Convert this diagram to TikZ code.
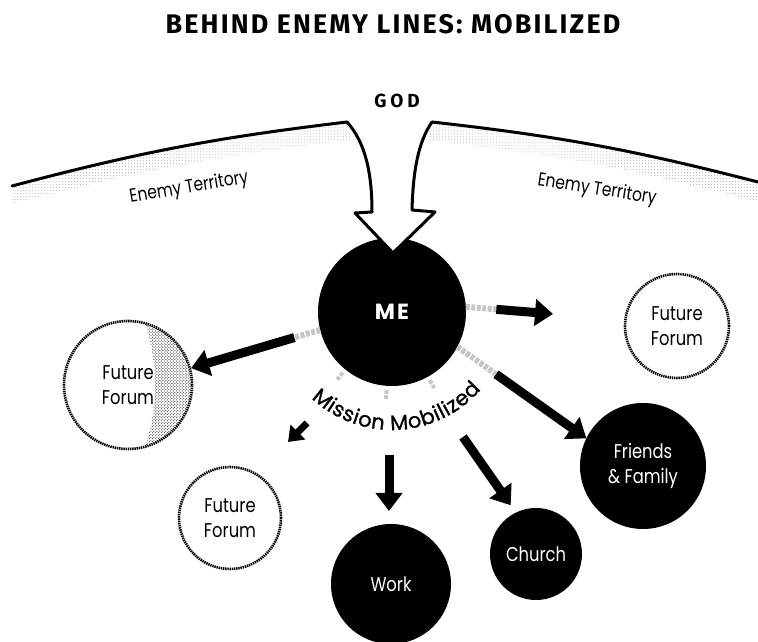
\documentclass[tikz,border=0pt]{standalone}
\usepackage{fontspec}
\setmainfont{Poppins}[FakeStretch=0.82]
\newfontfamily\headfont{Fira Sans}[LetterSpace=8]
\newfontfamily\godfont{Fira Sans}[LetterSpace=20]
\newfontfamily\mefont{Poppins}[LetterSpace=10]
\newfontfamily\mobfont{Poppins}[FakeBold=1]
\usepackage{tikz}
\usetikzlibrary{arrows.meta}
\usetikzlibrary{calc}
\usetikzlibrary{patterns}
\usetikzlibrary{decorations.text}

\tikzset{
  forum/.style={draw, circle, line width=2.6bp, dash pattern=on 1.4bp off 0.8bp, align=center, font=\fontsize{20}{25}\selectfont, inner sep=0},
  place/.style={draw, circle, fill=black, line width=2bp, text=white, align=center, font=\fontsize{20}{25}\selectfont, inner sep=0},
  terr/.style={font=\fontsize{19}{22}\selectfont},
  arr/.style={line width=9bp, -{Triangle[length=18bp, width=26bp]}},
  streak/.style={line width=6bp, gray!45, dash pattern=on 4bp off 1.5bp},
  ground/.style={pattern=dots, pattern color=gray!80},
  rim/.style={line width=3bp, line cap=round, line join=round},
}

\begin{document}
\begin{tikzpicture}[x=1bp, y=1bp]
\useasboundingbox (0,0) rectangle (758,642);

\node[font=\headfont\bfseries\fontsize{27}{30}\selectfont] (title) at (393,618) {BEHIND ENEMY LINES: MOBILIZED};
\node[font=\godfont\bfseries\fontsize{19}{22}\selectfont] (god) at (397,541) {GOD};

\fill[ground] (12,456) to[bend left=4] (347,520) -- (352,502) to[bend right=4] (12,438) -- cycle;
\fill[ground] (432,520) to[bend left=4] (758,460) -- (758,440) to[bend right=4] (428,502) -- cycle;

\node[place, minimum size=146bp, font=\mefont\bfseries\fontsize{22}{25}\selectfont] (ME) at (392,330) {ME};
\filldraw[rim, fill=white] (347,520) .. controls (365,500) and (372,470) .. (372,430) -- (355,429) -- (393,389) -- (435,430) -- (412,432) .. controls (413,470) and (418,500) .. (432,520);
\draw[rim] (12,456) to[bend left=4] (347,520);
\draw[rim] (432,520) to[bend left=4] (758,460);

\node[terr, rotate=9.5] (lterr) at (189,454) {Enemy Territory};
\node[terr, rotate=-9] (rterr) at (597,452) {Enemy Territory};

\node[forum, minimum size=128bp] (FF1) at (128,257) {Future\\Forum};
\node[forum, minimum size=104bp] (FF2) at (677,316) {Future\\Forum};
\node[forum, minimum size=102bp] (FF3) at (230,124) {Future\\Forum};
\node[place, minimum size=124bp] (fam) at (643,176) {Friends\\\& Family};
\node[place, minimum size=90bp] (church) at (536,88) {Church};
\node[place, minimum size=118bp] (work) at (391,58) {Work};

\begin{scope}
\clip (FF1.center) circle (63);
\fill[pattern=crosshatch dots, even odd rule] (FF1.center) circle (63) ($(FF1.center)+(-173,0)$) circle (200);
\end{scope}

\coordinate (r1) at (553,328);
\coordinate (s1) at (307,219);
\coordinate (s2) at (288,200);
\coordinate (d1) at (389,187);
\coordinate (c1) at (463,205);

\draw[streak] (ME.4) -- ($(ME.4)!0.45!(r1)$);
\draw[arr] ($(ME.4)!0.35!(r1)$) -- (r1);
\draw[streak] (ME.194) -- ($(ME.194)!0.25!(FF1.15)$);
\draw[arr] ($(ME.194)!0.2!(FF1.15)$) -- (FF1.15);
\draw[streak] (ME.-28) -- ($(ME.-28)!0.35!(fam.154)$);
\draw[arr] ($(ME.-28)!0.3!(fam.154)$) -- (fam.154);
\draw[arr, line width=7bp, -{Triangle[length=14bp, width=20bp]}] (s1) -- (s2);
\draw[arr, shorten >=13bp] (d1) -- (d1 |- work.north);
\draw[arr, shorten >=9bp] (c1) -- (church.116);

\foreach \a in {231,266,299}
  \draw[streak, line width=4bp] ($(ME.center)+(\a:78)$) -- ($(ME.center)+(\a:87)$);

\path[decorate, decoration={text along path, text={|\mobfont\fontsize{21}{21}\selectfont|Mission Mobilized}, text align=fit to path}] ($(ME.center)+(227:118)$) arc (227:319:118);
\end{tikzpicture}
\end{document}
